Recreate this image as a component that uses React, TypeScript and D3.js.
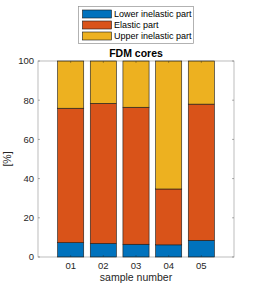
import React from "react";
import * as d3 from "d3";

const categories = ["01", "02", "03", "04", "05"];
const lowerInelastic = [7.3, 6.9, 6.5, 6.2, 8.5];
const elastic = [68.6, 71.5, 69.9, 28.5, 69.5];
const upperInelastic = [24.1, 21.6, 23.6, 65.3, 22.0];
const seriesNames = ["Lower inelastic part", "Elastic part", "Upper inelastic part"];
const seriesColors = ["#0072BD", "#D95319", "#EDB120"];
const yTicks = [0, 20, 40, 60, 80, 100];

export default function App() {
  const W = 262, H = 288;
  const left = 38, right = 234, top = 61, bottom = 257;
  const x = d3.scaleLinear().domain([0, 6]).range([left, right]);
  const y = d3.scaleLinear().domain([0, 100]).range([bottom, top]);
  const bw = (x(0.8) - x(0));
  const rows = categories.map((c, i) => ({ c, i, vals: [lowerInelastic[i], elastic[i], upperInelastic[i]] }));
  const stackData = rows.map(r => ({ lower: r.vals[0], elastic: r.vals[1], upper: r.vals[2] }));
  const stacked = d3.stack<any>().keys(["lower", "elastic", "upper"])(stackData);
  const font = "Helvetica, Arial, 'Liberation Sans', sans-serif";
  const axisColor = "#262626";
  return (
    <svg width={W} height={H} style={{ position: "absolute", left: 0, top: 0 }} fontFamily={font}>
      <rect x={0} y={0} width={W} height={H} fill="#fff" />
      {stacked.map((s, si) => (
        <g key={si}>
          {s.map((d, i) => (
            <rect key={i} x={x(i + 1) - bw / 2} y={y(Math.min(d[1], 100))} width={bw}
              height={y(d[0]) - y(Math.min(d[1], 100))} fill={seriesColors[si]} stroke="#1a1a1a" strokeWidth={0.6} />
          ))}
        </g>
      ))}
      <rect x={left} y={top} width={right - left} height={bottom - top} fill="none" stroke={axisColor} strokeWidth={0.6} strokeOpacity={0.5} />
      {yTicks.map(t => (
        <g key={t}>
          <line x1={left} x2={left + 2} y1={y(t)} y2={y(t)} stroke={axisColor} strokeWidth={0.6} strokeOpacity={0.6} />
          <line x1={right} x2={right - 2} y1={y(t)} y2={y(t)} stroke={axisColor} strokeWidth={0.6} strokeOpacity={0.6} />
          <text x={left - 4} y={y(t)} dy="0.35em" textAnchor="end" fontSize={9.5} fill={axisColor}>{t}</text>
        </g>
      ))}
      {categories.map((c, i) => (
        <g key={c}>
          <line x1={x(i + 1)} x2={x(i + 1)} y1={bottom} y2={bottom - 2} stroke={axisColor} strokeWidth={0.6} strokeOpacity={0.6} />
          <line x1={x(i + 1)} x2={x(i + 1)} y1={top} y2={top + 2} stroke={axisColor} strokeWidth={0.6} strokeOpacity={0.6} />
          <text x={x(i + 1)} y={bottom + 12} textAnchor="middle" fontSize={9.5} fill={axisColor}>{c}</text>
        </g>
      ))}
      <text x={(left + right) / 2} y={281} textAnchor="middle" fontSize={10.5} fill={axisColor}>sample number</text>
      <text transform={`translate(11,${(top + bottom) / 2}) rotate(-90)`} textAnchor="middle" fontSize={10.5} fill={axisColor}>[%]</text>
      <text x={(left + right) / 2} y={57} textAnchor="middle" fontSize={10.5} fontWeight="bold" fill="#000">FDM cores</text>
      <g>
        <rect x={78.5} y={6.5} width={115} height={37} fill="#fff" stroke="#262626" strokeOpacity={0.5} strokeWidth={0.7} />
        {seriesNames.map((n, i) => (
          <g key={n}>
            <rect x={82.5} y={10 + i * 11} width={29} height={8} fill={seriesColors[i]} stroke="#1a1a1a" strokeWidth={0.6} />
            <text x={114} y={14 + i * 11} dy="0.35em" fontSize={9} fill="#000">{n}</text>
          </g>
        ))}
      </g>
    </svg>
  );
}
